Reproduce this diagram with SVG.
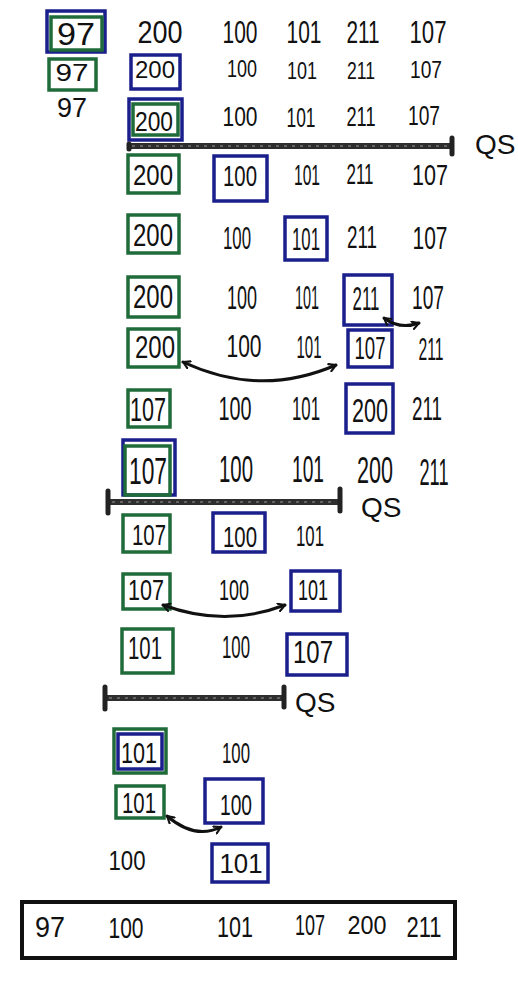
<svg xmlns="http://www.w3.org/2000/svg" width="518" height="981" viewBox="0 0 518 981">
<defs>
<style>
text{font-family:"Liberation Sans","DejaVu Sans",sans-serif;fill:#111;text-anchor:middle}
.g{fill:none;stroke:#1f6b3a;stroke-width:3.5}
.b{fill:none;stroke:#1a1f8c;stroke-width:3.5}
.bar{stroke:#2e2e2e;stroke-width:6;fill:none}
.tex{stroke:#9a9a9a;stroke-width:1.2;stroke-dasharray:3 5;fill:none}
.cap{stroke:#222;stroke-width:5;stroke-linecap:round}
.arr{fill:none;stroke:#111;stroke-width:3;stroke-linecap:round;marker-start:url(#ah);marker-end:url(#ah)}
.qs{text-anchor:start;font-size:28px}
.r1{font-size:32px}.r2{font-size:23px}.r3{font-size:27px}.r4{font-size:30px}.r5{font-size:32px}.r6{font-size:33px}.r7{font-size:31px}.r8{font-size:33px}.r9{font-size:37px}.r10{font-size:30px}.r11{font-size:30px}.r12{font-size:31px}.r13{font-size:30px}.r14{font-size:30px}.r15{font-size:28px}.rf{font-size:30px}
</style>
<marker id="ah" viewBox="0 0 10 10" refX="8" refY="5" markerWidth="3.2" markerHeight="3.2" orient="auto-start-reverse" markerUnits="strokeWidth">
<path d="M1,1 L8,5 L1,9" fill="none" stroke="#111" stroke-width="2.2" stroke-linecap="round" stroke-linejoin="round"/>
</marker>
</defs>
<rect width="518" height="981" fill="#fff"/>

<g id="row1">
<rect class="b" x="47" y="11" width="58" height="41"/>
<rect class="g" x="51" y="17" width="51" height="33"/>
<text class="r1" x="76" y="45" textLength="38" lengthAdjust="spacingAndGlyphs">97</text>
<text class="r1" x="160" y="43" textLength="45" lengthAdjust="spacingAndGlyphs">200</text>
<text class="r1" x="240" y="43" textLength="35" lengthAdjust="spacingAndGlyphs">100</text>
<text class="r1" x="304" y="43" textLength="35" lengthAdjust="spacingAndGlyphs">101</text>
<text class="r1" x="363" y="43" textLength="33" lengthAdjust="spacingAndGlyphs">211</text>
<text class="r1" x="428" y="43" textLength="37" lengthAdjust="spacingAndGlyphs">107</text>
</g>

<g id="row2">
<rect class="g" x="49" y="59" width="47" height="31"/>
<rect class="b" x="131" y="55" width="49" height="34"/>
<text class="r2" x="72" y="81" textLength="33" lengthAdjust="spacingAndGlyphs">97</text>
<text class="r2" x="155" y="78" textLength="40" lengthAdjust="spacingAndGlyphs">200</text>
<text class="r2" x="242" y="77" textLength="30" lengthAdjust="spacingAndGlyphs">100</text>
<text class="r2" x="302" y="79" textLength="30" lengthAdjust="spacingAndGlyphs">101</text>
<text class="r2" x="361" y="79" textLength="28" lengthAdjust="spacingAndGlyphs">211</text>
<text class="r2" x="426" y="78" textLength="32" lengthAdjust="spacingAndGlyphs">107</text>
</g>

<g id="row3">
<rect class="b" x="129" y="99" width="53" height="41"/>
<rect class="g" x="133" y="104" width="45" height="31"/>
<text class="r3" x="72" y="117" textLength="30" lengthAdjust="spacingAndGlyphs">97</text>
<text class="r3" x="154" y="131" textLength="38" lengthAdjust="spacingAndGlyphs">200</text>
<text class="r3" x="240" y="126" textLength="35" lengthAdjust="spacingAndGlyphs">100</text>
<text class="r3" x="301" y="127" textLength="29" lengthAdjust="spacingAndGlyphs">101</text>
<text class="r3" x="361" y="126" textLength="29" lengthAdjust="spacingAndGlyphs">211</text>
<text class="r3" x="424" y="125" textLength="32" lengthAdjust="spacingAndGlyphs">107</text>
</g>

<g id="qs1">
<line class="bar" x1="128" y1="146" x2="452" y2="146"/>
<line class="tex" x1="132" y1="146" x2="448" y2="146"/>
<line class="cap" x1="452" y1="138" x2="452" y2="154"/>
<line class="cap" x1="129" y1="144" x2="129" y2="149"/>
<text class="qs" x="475" y="154">QS</text>
</g>

<g id="row4">
<rect class="g" x="128" y="155" width="51" height="38"/>
<rect class="b" x="214" y="156" width="53" height="45"/>
<text class="r4" x="153" y="185" textLength="40" lengthAdjust="spacingAndGlyphs">200</text>
<text class="r4" x="240" y="186" textLength="34" lengthAdjust="spacingAndGlyphs">100</text>
<text class="r4" x="307" y="185" textLength="26" lengthAdjust="spacingAndGlyphs">101</text>
<text class="r4" x="360" y="184" textLength="27" lengthAdjust="spacingAndGlyphs">211</text>
<text class="r4" x="430" y="185" textLength="36" lengthAdjust="spacingAndGlyphs">107</text>
</g>

<g id="row5">
<rect class="g" x="128" y="215" width="51" height="38"/>
<rect class="b" x="285" y="217" width="42" height="43"/>
<text class="r5" x="153" y="246" textLength="40" lengthAdjust="spacingAndGlyphs">200</text>
<text class="r5" x="237" y="249" textLength="28" lengthAdjust="spacingAndGlyphs">100</text>
<text class="r5" x="306" y="250" textLength="28" lengthAdjust="spacingAndGlyphs">101</text>
<text class="r5" x="362" y="248" textLength="30" lengthAdjust="spacingAndGlyphs">211</text>
<text class="r5" x="430" y="249" textLength="35" lengthAdjust="spacingAndGlyphs">107</text>
</g>

<g id="row6">
<rect class="g" x="128" y="277" width="51" height="40"/>
<rect class="b" x="344" y="275" width="48" height="50"/>
<text class="r6" x="153" y="308" textLength="40" lengthAdjust="spacingAndGlyphs">200</text>
<text class="r6" x="242" y="309" textLength="30" lengthAdjust="spacingAndGlyphs">100</text>
<text class="r6" x="307" y="309" textLength="24" lengthAdjust="spacingAndGlyphs">101</text>
<text class="r6" x="366" y="310" textLength="27" lengthAdjust="spacingAndGlyphs">211</text>
<text class="r6" x="428" y="309" textLength="32" lengthAdjust="spacingAndGlyphs">107</text>
</g>

<g id="row7">
<rect class="g" x="128" y="329" width="51" height="38"/>
<rect class="b" x="348" y="330" width="44" height="37"/>
<text class="r7" x="155" y="358" textLength="40" lengthAdjust="spacingAndGlyphs">200</text>
<text class="r7" x="244" y="357" textLength="35" lengthAdjust="spacingAndGlyphs">100</text>
<text class="r7" x="309" y="358" textLength="25" lengthAdjust="spacingAndGlyphs">101</text>
<text class="r7" x="370" y="359" textLength="31" lengthAdjust="spacingAndGlyphs">107</text>
<text class="r7" x="431" y="360" textLength="25" lengthAdjust="spacingAndGlyphs">211</text>
</g>

<g id="row8">
<rect class="g" x="128" y="390" width="42" height="37"/>
<rect class="b" x="346" y="384" width="47" height="49"/>
<text class="r8" x="148" y="421" textLength="36" lengthAdjust="spacingAndGlyphs">107</text>
<text class="r8" x="235" y="420" textLength="33" lengthAdjust="spacingAndGlyphs">100</text>
<text class="r8" x="306" y="420" textLength="28" lengthAdjust="spacingAndGlyphs">101</text>
<text class="r8" x="370" y="422" textLength="36" lengthAdjust="spacingAndGlyphs">200</text>
<text class="r8" x="427" y="420" textLength="30" lengthAdjust="spacingAndGlyphs">211</text>
</g>

<g id="row9">
<rect class="b" x="123" y="440" width="52" height="55"/>
<rect class="g" x="125" y="446" width="45" height="49"/>
<text class="r9" x="148" y="484" textLength="38" lengthAdjust="spacingAndGlyphs">107</text>
<text class="r9" x="236" y="482" textLength="34" lengthAdjust="spacingAndGlyphs">100</text>
<text class="r9" x="308" y="482" textLength="32" lengthAdjust="spacingAndGlyphs">101</text>
<text class="r9" x="375" y="483" textLength="36" lengthAdjust="spacingAndGlyphs">200</text>
<text class="r9" x="434" y="485" textLength="29" lengthAdjust="spacingAndGlyphs">211</text>
</g>

<g id="qs2">
<line class="bar" x1="108" y1="502" x2="340" y2="502"/>
<line class="tex" x1="112" y1="502" x2="336" y2="502"/>
<line class="cap" x1="108" y1="491" x2="108" y2="513"/>
<line class="cap" x1="340" y1="489" x2="340" y2="511"/>
<text class="qs" x="361" y="517">QS</text>
</g>

<g id="row10">
<rect class="g" x="123" y="515" width="47" height="37"/>
<rect class="b" x="213" y="513" width="52" height="39"/>
<text class="r10" x="149" y="545" textLength="34" lengthAdjust="spacingAndGlyphs">107</text>
<text class="r10" x="240" y="547" textLength="34" lengthAdjust="spacingAndGlyphs">100</text>
<text class="r10" x="310" y="546" textLength="28" lengthAdjust="spacingAndGlyphs">101</text>
</g>

<g id="row11">
<rect class="g" x="123" y="574" width="47" height="35"/>
<rect class="b" x="291" y="571" width="49" height="40"/>
<text class="r11" x="146" y="600" textLength="36" lengthAdjust="spacingAndGlyphs">107</text>
<text class="r11" x="234" y="600" textLength="30" lengthAdjust="spacingAndGlyphs">100</text>
<text class="r11" x="313" y="600" textLength="30" lengthAdjust="spacingAndGlyphs">101</text>
</g>

<g id="row12">
<rect class="g" x="122" y="629" width="51" height="44"/>
<rect class="b" x="287" y="634" width="60" height="41"/>
<text class="r12" x="145" y="659" textLength="34" lengthAdjust="spacingAndGlyphs">101</text>
<text class="r12" x="236" y="658" textLength="28" lengthAdjust="spacingAndGlyphs">100</text>
<text class="r12" x="313" y="663" textLength="40" lengthAdjust="spacingAndGlyphs">107</text>
</g>

<g id="qs3">
<line class="bar" x1="105" y1="698" x2="284" y2="698"/>
<line class="tex" x1="109" y1="698" x2="280" y2="698"/>
<line class="cap" x1="105" y1="687" x2="105" y2="709"/>
<line class="cap" x1="284" y1="687" x2="284" y2="707"/>
<text class="qs" x="295" y="712">QS</text>
</g>

<g id="row13">
<rect class="g" x="114" y="729" width="52" height="44"/>
<rect class="b" x="118" y="734" width="44" height="35" stroke-width="2.5"/>
<text class="r13" x="139" y="763" textLength="36" lengthAdjust="spacingAndGlyphs">101</text>
<text class="r13" x="236" y="763" textLength="28" lengthAdjust="spacingAndGlyphs">100</text>
</g>

<g id="row14">
<rect class="g" x="116" y="786" width="48" height="32"/>
<rect class="b" x="205" y="779" width="58" height="44"/>
<text class="r14" x="139" y="813" textLength="34" lengthAdjust="spacingAndGlyphs">101</text>
<text class="r14" x="236" y="815" textLength="32" lengthAdjust="spacingAndGlyphs">100</text>
</g>

<g id="row15">
<rect class="b" x="212" y="844" width="56" height="38"/>
<text class="r15" x="127" y="870" textLength="37" lengthAdjust="spacingAndGlyphs">100</text>
<text class="r15" x="241" y="873" textLength="43" lengthAdjust="spacingAndGlyphs">101</text>
</g>

<g id="result">
<rect x="22" y="902" width="433" height="56" fill="none" stroke="#111" stroke-width="4"/>
<text class="rf" x="50" y="937" textLength="30" lengthAdjust="spacingAndGlyphs">97</text>
<text class="rf" x="126" y="938" textLength="35" lengthAdjust="spacingAndGlyphs">100</text>
<text class="rf" x="235" y="937" textLength="36" lengthAdjust="spacingAndGlyphs">101</text>
<text class="rf" x="310" y="935" textLength="30" lengthAdjust="spacingAndGlyphs">107</text>
<text class="rf" x="367" y="934" textLength="39" lengthAdjust="spacingAndGlyphs" style="font-size:25px">200</text>
<text class="rf" x="424" y="937" textLength="35" lengthAdjust="spacingAndGlyphs">211</text>
</g>

<g id="connectors">
<path class="arr" d="M384,318 Q400,330 419,323"/>
<path class="arr" d="M183,362 Q260,398 336,365"/>
<path class="arr" d="M163,605 Q225,628 285,605"/>
<path class="arr" d="M167,816 Q195,840 221,827"/>
</g>
</svg>
